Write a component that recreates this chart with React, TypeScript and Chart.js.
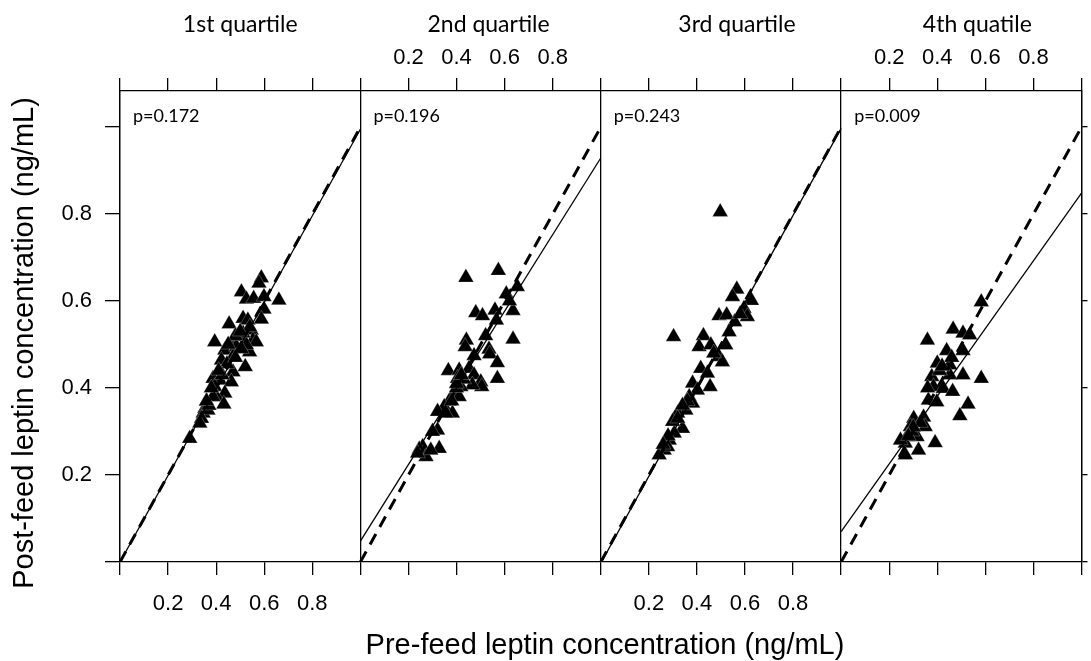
import React, { useEffect, useRef } from "react";
import { Chart, registerables } from "chart.js";

Chart.register(...registerables);

// ---- data ----
const panelTitles = ["1st quartile", "2nd quartile", "3rd quartile", "4th quatile"];
const pLabels = ["p=0.172", "p=0.196", "p=0.243", "p=0.009"];
const xTickValues = [0, 0.2, 0.4, 0.6, 0.8, 1.0];
const yTickValues = [0, 0.2, 0.4, 0.6, 0.8, 1.0];
const labelledTicks = [0.2, 0.4, 0.6, 0.8];

const q1Pre = [0.588, 0.578, 0.505, 0.526, 0.556, 0.599, 0.661, 0.599, 0.588, 0.512, 0.454, 0.532, 0.546, 0.394, 0.467, 0.498, 0.553, 0.567, 0.436, 0.484, 0.539, 0.526, 0.422, 0.47, 0.521, 0.47, 0.387, 0.415, 0.463, 0.394, 0.436, 0.401, 0.432, 0.36, 0.353, 0.346, 0.366, 0.339, 0.332, 0.29, 0.387, 0.512, 0.54, 0.505, 0.445, 0.425, 0.48, 0.37, 0.45, 0.5, 0.48, 0.41, 0.38, 0.36];
const q1Post = [0.653, 0.641, 0.621, 0.604, 0.606, 0.61, 0.602, 0.581, 0.558, 0.56, 0.547, 0.556, 0.533, 0.506, 0.506, 0.518, 0.51, 0.506, 0.487, 0.495, 0.483, 0.499, 0.464, 0.472, 0.449, 0.437, 0.422, 0.418, 0.414, 0.403, 0.388, 0.38, 0.363, 0.369, 0.353, 0.342, 0.349, 0.33, 0.319, 0.284, 0.38, 0.526, 0.54, 0.49, 0.455, 0.43, 0.52, 0.36, 0.5, 0.53, 0.47, 0.44, 0.4, 0.37];

const q2Pre = [0.439, 0.574, 0.653, 0.607, 0.48, 0.508, 0.56, 0.635, 0.566, 0.521, 0.635, 0.441, 0.436, 0.535, 0.538, 0.473, 0.57, 0.366, 0.411, 0.452, 0.473, 0.57, 0.404, 0.501, 0.505, 0.466, 0.418, 0.39, 0.411, 0.369, 0.349, 0.321, 0.383, 0.356, 0.321, 0.259, 0.328, 0.245, 0.273, 0.293, 0.238, 0.62, 0.43, 0.4, 0.4, 0.42, 0.38, 0.3];
const q2Post = [0.654, 0.67, 0.633, 0.616, 0.573, 0.566, 0.579, 0.578, 0.556, 0.52, 0.512, 0.51, 0.495, 0.489, 0.478, 0.474, 0.458, 0.44, 0.441, 0.445, 0.43, 0.422, 0.422, 0.414, 0.403, 0.407, 0.403, 0.388, 0.38, 0.369, 0.357, 0.346, 0.342, 0.342, 0.303, 0.265, 0.261, 0.259, 0.242, 0.257, 0.25, 0.6, 0.42, 0.4, 0.41, 0.43, 0.37, 0.3];

const q3Pre = [0.497, 0.566, 0.548, 0.627, 0.596, 0.492, 0.524, 0.61, 0.557, 0.303, 0.427, 0.409, 0.458, 0.52, 0.534, 0.492, 0.506, 0.416, 0.444, 0.455, 0.382, 0.402, 0.368, 0.382, 0.354, 0.32, 0.34, 0.306, 0.285, 0.264, 0.243, 0.278, 0.299, 0.58, 0.47, 0.36, 0.34, 0.28, 0.32, 0.26];
const q3Post = [0.805, 0.627, 0.61, 0.601, 0.583, 0.566, 0.568, 0.564, 0.552, 0.518, 0.52, 0.495, 0.499, 0.499, 0.529, 0.472, 0.46, 0.445, 0.434, 0.403, 0.411, 0.395, 0.38, 0.365, 0.349, 0.342, 0.307, 0.296, 0.28, 0.257, 0.246, 0.265, 0.323, 0.57, 0.48, 0.37, 0.36, 0.29, 0.33, 0.27];

const q4Pre = [0.583, 0.359, 0.466, 0.507, 0.535, 0.439, 0.507, 0.4, 0.452, 0.377, 0.452, 0.507, 0.583, 0.384, 0.425, 0.464, 0.363, 0.398, 0.528, 0.494, 0.302, 0.343, 0.288, 0.35, 0.274, 0.316, 0.391, 0.267, 0.322, 0.267, 0.247, 0.295, 0.41, 0.33, 0.46, 0.3, 0.28, 0.42, 0.36];
const q4Post = [0.598, 0.51, 0.535, 0.526, 0.522, 0.486, 0.486, 0.457, 0.453, 0.426, 0.43, 0.43, 0.422, 0.403, 0.399, 0.392, 0.372, 0.368, 0.363, 0.336, 0.33, 0.333, 0.311, 0.311, 0.288, 0.288, 0.274, 0.273, 0.257, 0.246, 0.28, 0.3, 0.44, 0.32, 0.47, 0.31, 0.29, 0.45, 0.4];

const fitIntercepts = [0.0, 0.048, -0.003, 0.07];
const fitSlopes = [0.995, 0.881, 1.0, 0.778];

const panelPre = [q1Pre, q2Pre, q3Pre, q4Pre];
const panelPost = [q1Post, q2Post, q3Post, q4Post];

const X_MAX = 1;
const Y_MAX = 1.083;

const TITLE_SHIFT = [0, 8, 16, 16];

export default function App() {
  const ref = useRef<HTMLCanvasElement | null>(null);

  useEffect(() => {
    if (!ref.current) return;
    const datasets: any[] = [];
    for (let i = 0; i < 4; i++) {
      datasets.push({
        type: "scatter",
        data: panelPre[i].map((v, k) => ({ x: i + v, y: panelPost[i][k] })),
        pointStyle: "triangle",
        pointRadius: 9,
        backgroundColor: "#000",
        borderColor: "rgba(255,255,255,0.5)",
        borderWidth: 0.5,
        order: 2,
      });
      datasets.push({
        type: "scatter",
        showLine: true,
        data: [
          { x: i, y: 0 },
          { x: i + X_MAX, y: X_MAX },
        ],
        borderColor: "#000",
        borderWidth: 3,
        borderDash: [12, 8],
        pointRadius: 0,
        order: 1,
      });
      datasets.push({
        type: "scatter",
        showLine: true,
        data: [
          { x: i, y: fitIntercepts[i] },
          { x: i + X_MAX, y: fitIntercepts[i] + fitSlopes[i] * X_MAX },
        ],
        borderColor: "#000",
        borderWidth: 1.3,
        pointRadius: 0,
        order: 1,
      });
    }

    const allXTicks: number[] = [];
    for (let i = 0; i < 4; i++) {
      xTickValues.forEach((v) => {
        const t = Math.round((i + v) * 10) / 10;
        if (!allXTicks.includes(t)) allXTicks.push(t);
      });
    }

    const xLabel = (value: number, shown: number[]) => {
      const panel = Math.floor(value + 1e-6);
      const frac = Math.round((value - panel) * 10) / 10;
      if (!shown.includes(panel)) return "";
      if (!labelledTicks.includes(frac)) return "";
      return frac.toFixed(1);
    };

    const zeroPad = (s: any) => {
      s.paddingLeft = 0;
      s.paddingRight = 0;
      s.paddingTop = 0;
      s.paddingBottom = 0;
    };

    const tickFont = { family: "'Liberation Sans', Arial, sans-serif", size: 22 };

    const textPlugin = {
      id: "panelText",
      afterDraw(chart: any) {
        const ctx = chart.ctx;
        const xs = chart.scales.x;
        const area = chart.chartArea;
        ctx.save();
        ctx.fillStyle = "#000";
        ctx.textBaseline = "middle";
        ctx.textAlign = "center";
        ctx.font = "23px Lato, 'Open Sans', sans-serif";
        panelTitles.forEach((t, i) => {
          ctx.fillText(t, xs.getPixelForValue(i + 0.5) + TITLE_SHIFT[i], 25);
        });
        ctx.textAlign = "left";
        ctx.font = "18px Lato, 'Open Sans', sans-serif";
        pLabels.forEach((t, i) => {
          ctx.fillText(t, xs.getPixelForValue(i) + 13, area.top + 25);
        });
        ctx.font = "29px 'Liberation Sans', Arial, sans-serif";
        ctx.textAlign = "center";
        ctx.textBaseline = "alphabetic";
        ctx.fillText("Pre-feed leptin concentration (ng/mL)", 605, 654);
        ctx.translate(33, 343);
        ctx.rotate(-Math.PI / 2);
        ctx.fillText("Post-feed leptin concentration (ng/mL)", 0, 0);
        ctx.restore();
      },
    };

    const chart = new Chart(ref.current, {
      type: "scatter",
      data: { datasets },
      options: {
        animation: false,
        responsive: false,
        events: [],
        layout: { padding: 0 },
        plugins: { legend: { display: false }, tooltip: { enabled: false } },
        scales: {
          x: {
            type: "linear",
            position: "bottom",
            min: 0,
            max: 4,
            afterBuildTicks: (s: any) => {
              s.ticks = allXTicks.map((v) => ({ value: v }));
            },
            afterFit: (s: any) => {
              s.height = 99;
              zeroPad(s);
            },
            ticks: {
              autoSkip: false,
              maxRotation: 0,
              padding: 16,
              color: "#000",
              font: tickFont,
              callback: (v: any) => xLabel(Number(v), [0, 2]),
            },
            grid: {
              color: (c: any) => {
                const v = c.tick ? c.tick.value : 0;
                return Math.abs(v - Math.round(v)) < 1e-6 ? "#000" : "rgba(0,0,0,0)";
              },
              lineWidth: 1.3,
              tickColor: "#000",
              tickLength: 13,
              drawOnChartArea: true,
            },
            border: { display: true, color: "#000", width: 1.3 },
          },
          x2: {
            type: "linear",
            position: "top",
            min: 0,
            max: 4,
            afterBuildTicks: (s: any) => {
              s.ticks = allXTicks.map((v) => ({ value: v }));
            },
            afterFit: (s: any) => {
              s.height = 91;
              zeroPad(s);
            },
            ticks: {
              autoSkip: false,
              maxRotation: 0,
              padding: 7,
              color: "#000",
              font: tickFont,
              callback: (v: any) => xLabel(Number(v), [1, 3]),
            },
            grid: {
              drawOnChartArea: false,
              tickColor: "#000",
              tickLength: 13,
              lineWidth: 1.3,
            },
            border: { display: true, color: "#000", width: 1.3 },
          },
          y: {
            type: "linear",
            position: "left",
            min: 0,
            max: Y_MAX,
            afterBuildTicks: (s: any) => {
              s.ticks = yTickValues.map((v) => ({ value: v }));
            },
            afterFit: (s: any) => {
              s.width = 120;
              zeroPad(s);
            },
            ticks: {
              padding: 13,
              color: "#000",
              font: tickFont,
              callback: (v: any) => {
                const n = Math.round(Number(v) * 10) / 10;
                return labelledTicks.includes(n) ? n.toFixed(1) : "";
              },
            },
            grid: {
              drawOnChartArea: false,
              tickColor: "#000",
              tickLength: 15,
              lineWidth: 1.3,
            },
            border: { display: true, color: "#000", width: 1.3 },
          },
          y2: {
            type: "linear",
            position: "right",
            min: 0,
            max: Y_MAX,
            afterBuildTicks: (s: any) => {
              s.ticks = yTickValues.map((v) => ({ value: v }));
            },
            afterFit: (s: any) => {
              s.width = 4;
              zeroPad(s);
            },
            ticks: { display: false },
            grid: {
              drawOnChartArea: false,
              tickColor: "#000",
              tickLength: 6,
              lineWidth: 1.3,
            },
            border: { display: true, color: "#000", width: 1.3 },
          },
        },
      },
      plugins: [textPlugin],
    } as any);

    return () => chart.destroy();
  }, []);

  return (
    <div style={{ position: "fixed", left: 0, top: 0, width: 1091, height: 661, background: "#fff" }}>
      <canvas ref={ref} width={1091} height={661} style={{ display: "block" }} />
    </div>
  );
}
